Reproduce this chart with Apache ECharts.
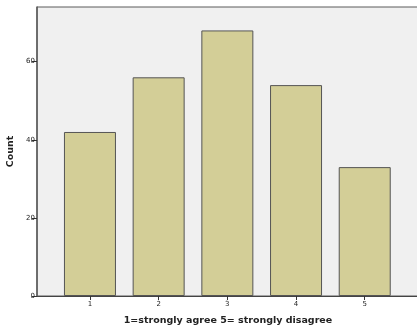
<!DOCTYPE html>
<html><head><meta charset="utf-8">
<script src="https://cdn.jsdelivr.net/npm/echarts@6/dist/echarts.min.js"></script>
<style>html,body{margin:0;padding:0;background:#fff}#c{width:417px;height:328px}</style>
</head><body><div id="c"></div>
<script>
const categories = [1, 2, 3, 4, 5];
const counts = [42, 56, 68, 54, 33];
const yTicks = [0, 20, 40, 60];
const xTitle = '1=strongly agree 5= strongly disagree';
const yTitle = 'Count';

const chart = echarts.init(document.getElementById('c'), null, {renderer: 'canvas'});
const font = 'DejaVu Sans';
chart.setOption({
  animation: false,
  grid: {left: 37, top: 7, right: -2, bottom: 32, outerBoundsMode: 'none', containLabel: false, show: true, backgroundColor: '#f0f0f0', borderColor: '#5a5a5a', borderWidth: 1},
  xAxis: {
    type: 'value', min: 0.229, max: 5.79,
    name: xTitle, nameLocation: 'middle', nameGap: 20,
    nameTextStyle: {fontFamily: font, fontWeight: 'bold', fontSize: 9.5, color: '#222'},
    axisLine: {show: true, lineStyle: {color: '#444', width: 1}},
    splitLine: {show: false},
    axisTick: {show: true, customValues: categories, length: 4, lineStyle: {color: '#333'}},
    axisLabel: {customValues: categories, fontFamily: font, fontSize: 7, color: '#222', margin: 5, formatter: v => String(v)}
  },
  yAxis: {
    type: 'value', min: 0, max: 74,
    name: yTitle, nameLocation: 'middle', nameGap: 17,
    nameTextStyle: {fontFamily: font, fontWeight: 'bold', fontSize: 9.5, color: '#222'},
    axisLine: {show: true, lineStyle: {color: '#5a5a5a', width: 1.5}},
    splitLine: {show: false},
    axisTick: {show: true, customValues: yTicks, length: 5, lineStyle: {color: '#333'}},
    axisLabel: {customValues: yTicks, fontFamily: font, fontSize: 7, color: '#222', margin: 2}
  },
  series: [{
    type: 'bar',
    data: categories.map((c, i) => [c, counts[i]]),
    barWidth: 52,
    itemStyle: {color: '#d3ce97', borderColor: '#555', borderWidth: 1}
  }]
});
</script></body></html>
